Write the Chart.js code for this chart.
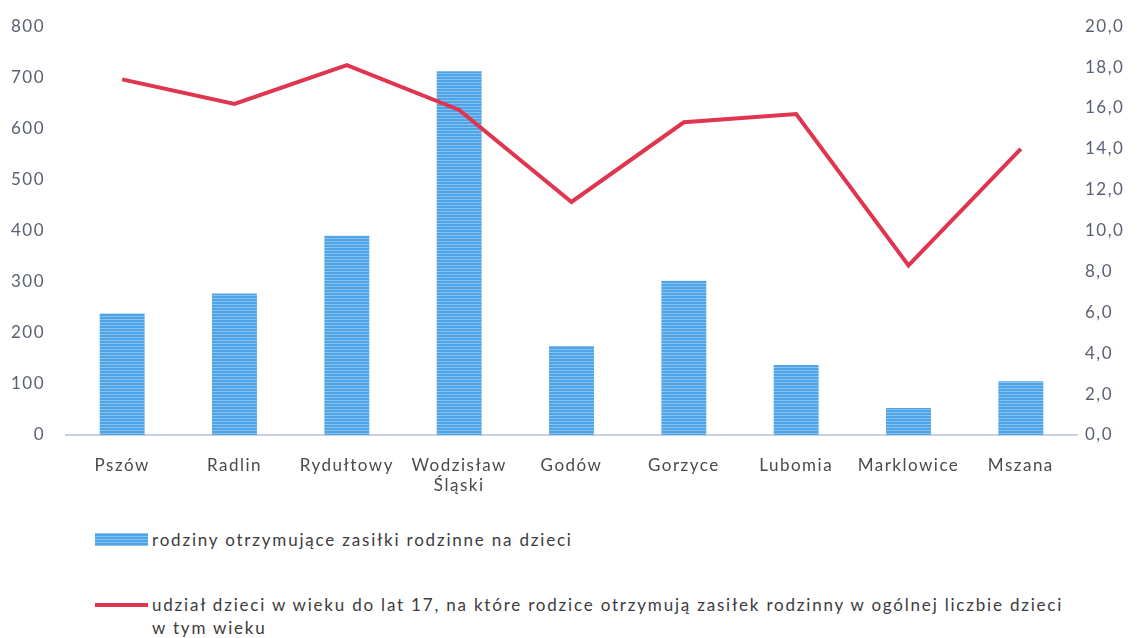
<!DOCTYPE html>
<html>
<head>
<meta charset="utf-8">
<script src="https://cdn.jsdelivr.net/npm/chart.js@4"></script>
<style>
  body { margin: 0; background: #fff; font-family: Lato, 'Noto Sans', sans-serif; overflow: hidden; }
  #wrap { position: absolute; left: 0; top: -5px; width: 1143px; height: 515px; }
  #legend { position: absolute; left: 95px; top: 528px; color: #3c3c3c; font-size: 17px; letter-spacing: 1.8px; }
  .item { display: flex; align-items: flex-start; }
  .item + .item { margin-top: 42px; }
  .swatch { width: 53px; flex: none; margin-right: 4px; }
  .txt { line-height: 23px; }
</style>
</head>
<body>
<div id="wrap"><canvas id="chart" width="1143" height="515"></canvas></div>
<div id="legend"></div>
<script>
// data
const categories = ['Pszów', 'Radlin', 'Rydułtowy', ['Wodzisław', 'Śląski'], 'Godów', 'Gorzyce', 'Lubomia', 'Marklowice', 'Mszana'];
const families = [238, 277, 390, 712, 174, 302, 137, 53, 105];
const childShare = [17.4, 16.2, 18.1, 15.9, 11.4, 15.3, 15.7, 8.3, 14.0];
const barLabel = 'rodziny otrzymujące zasiłki rodzinne na dzieci';
const lineLabel = 'udział dzieci w wieku do lat 17, na które rodzice otrzymują zasiłek rodzinny w ogólnej liczbie dzieci w tym wieku';

// striped fill for the bars
function stripes() {
    const c = document.createElement('canvas');
    c.width = 4; c.height = 3;
    const g = c.getContext('2d');
    g.fillStyle = '#4ea4e6';
    g.fillRect(0, 0, 4, 3);
    g.fillStyle = '#86c2f0';
    g.fillRect(0, 0, 4, 1);
    return g.createPattern(c, 'repeat');
}

const ctx = document.getElementById('chart').getContext('2d');
const barFill = stripes();

const tickFont = { family: 'Lato, "Noto Sans", sans-serif', size: 17 };

// wider letter spacing, like the original's text
const spacing = {
    id: 'spacing',
    beforeUpdate(c) { c.ctx.letterSpacing = '1.5px'; },
    beforeDraw(c) { c.ctx.letterSpacing = '1.5px'; },
};

const chart = new Chart(ctx, {
    type: 'bar',
    data: {
        labels: categories,
        datasets: [{
            type: 'bar',
            label: barLabel,
            data: families,
            backgroundColor: barFill,
            yAxisID: 'y',
            barPercentage: 0.8,
            categoryPercentage: 0.5,
            order: 2,
        }, {
            type: 'line',
            label: lineLabel,
            data: childShare,
            borderColor: '#e0354f',
            backgroundColor: '#e0354f',
            borderWidth: 4,
            pointRadius: 0,
            tension: 0,
            yAxisID: 'y1',
            order: 1,
        }],
    },
    options: {
        responsive: false,
        animation: false,
        layout: { padding: { top: 10, bottom: 0, left: 0, right: 0 } },
        plugins: { legend: { display: false }, tooltip: { enabled: false } },
        scales: {
            x: {
                grid: { display: false, drawTicks: false },
                border: { color: '#c9d0e2', width: 2 },
                ticks: { color: '#4a4a4a', font: tickFont, padding: 20, maxRotation: 0, autoSkip: false },
                afterFit: (s) => { s.height = 75; },
            },
            y: {
                position: 'left',
                min: 0, max: 800,
                grid: { display: false, drawTicks: false },
                border: { display: false },
                ticks: { stepSize: 100, color: '#5b6172', font: tickFont, padding: 21 },
                afterFit: (s) => { s.width = 66; },
            },
            y1: {
                position: 'right',
                min: 0, max: 20,
                grid: { display: false, drawTicks: false },
                border: { display: false },
                ticks: {
                    stepSize: 2, color: '#5b6172', font: tickFont, padding: 8,
                    callback: (v) => v.toFixed(1).replace('.', ','),
                },
                afterFit: (s) => { s.width = 66; },
            },
        },
    },
    plugins: [spacing],
});

// legend below the chart, built from the datasets
const legend = document.getElementById('legend');
chart.data.datasets.forEach((ds, i) => {
    const item = document.createElement('div');
    item.className = 'item';
    const sw = document.createElement('div');
    sw.className = 'swatch';
    if (i === 0) {
        sw.style.height = '13px';
        sw.style.marginTop = '5px';
        sw.style.background = 'repeating-linear-gradient(#86c2f0 0 1px, #4ea4e6 1px 3px)';
    } else {
        sw.style.height = '4px';
        sw.style.marginTop = '10px';
        sw.style.background = ds.borderColor;
    }
    const t = document.createElement('div');
    t.className = 'txt';
    t.style.width = i === 0 ? 'auto' : '930px';
    t.textContent = ds.label;
    item.appendChild(sw);
    item.appendChild(t);
    legend.appendChild(item);
});
</script>
</body>
</html>
